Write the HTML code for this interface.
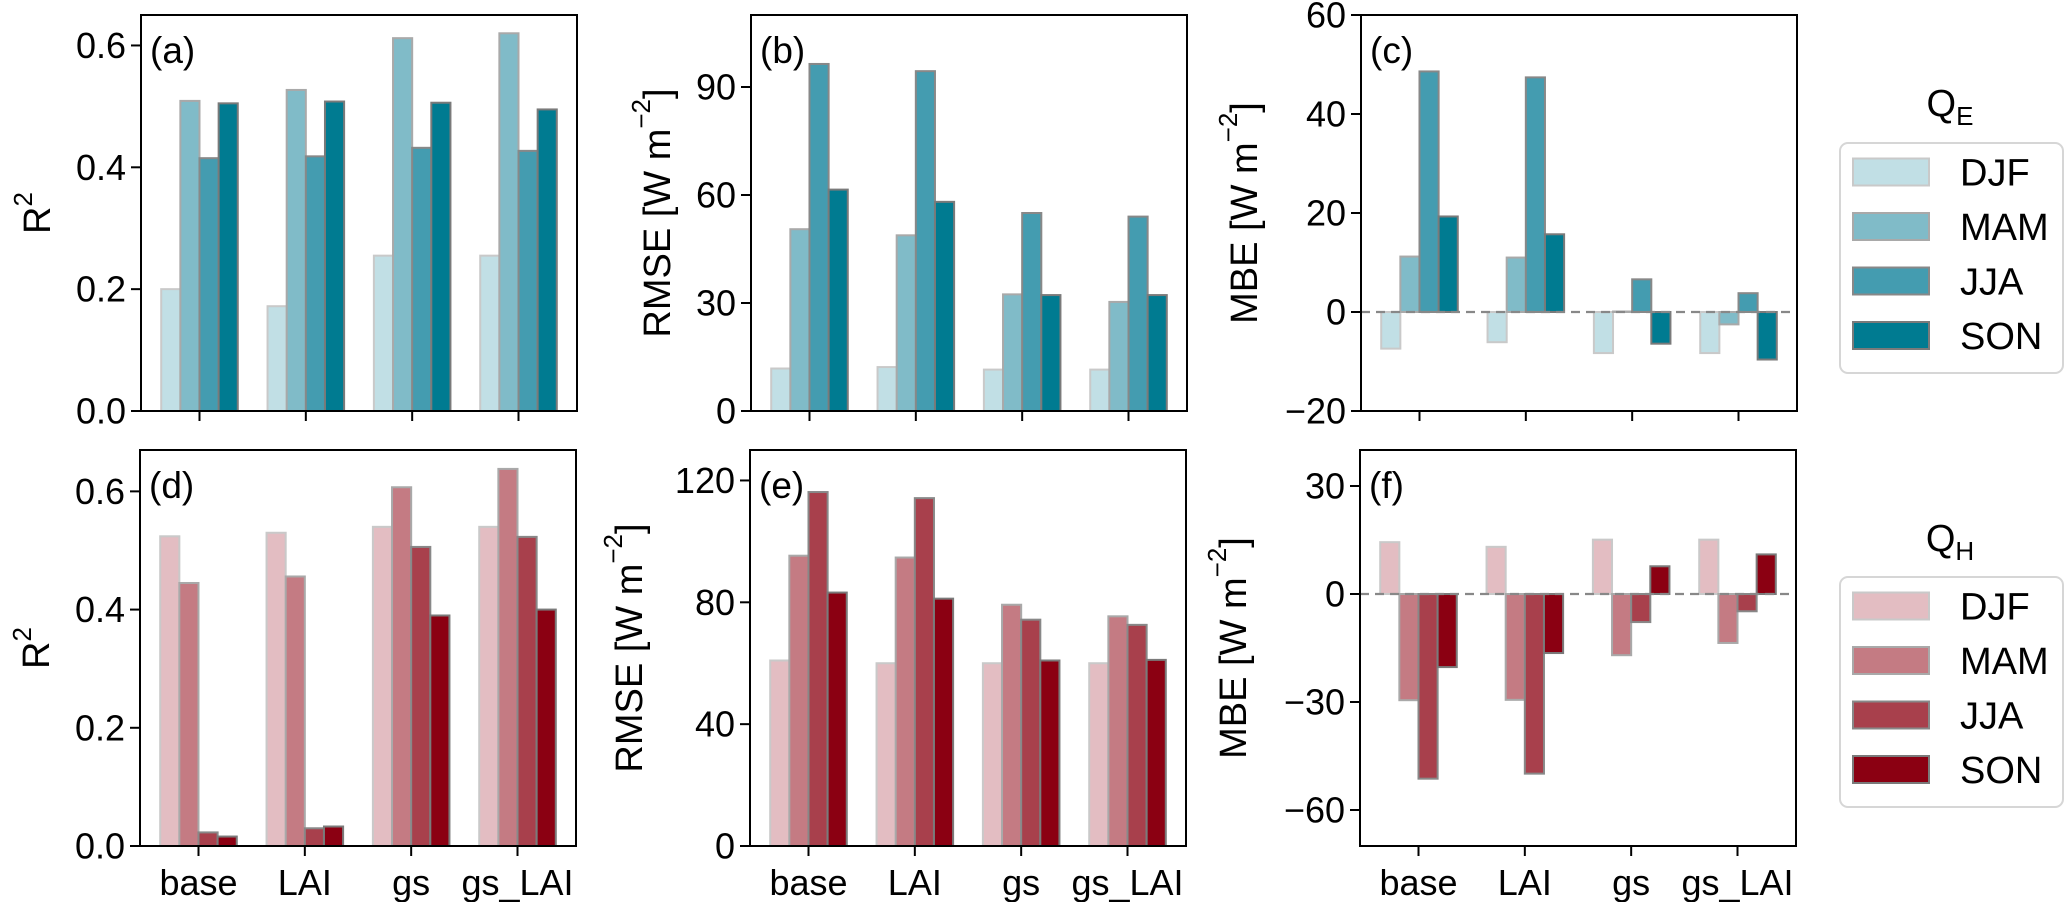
<!DOCTYPE html>
<html><head><meta charset="utf-8"><style>
html,body{margin:0;padding:0;background:#fff;}
svg{display:block;font-family:"Liberation Sans",Arial,sans-serif;}
</style></head><body>
<svg id="fig" width="2067" height="902" viewBox="0 0 2067 902" xmlns="http://www.w3.org/2000/svg"></svg>
<script>
const categories = ["base","LAI","gs","gs_LAI"];
const seasons = ["DJF","MAM","JJA","SON"];
// Q_E
const r2QE   = [[0.20,0.172,0.255,0.255],[0.509,0.527,0.612,0.62],[0.415,0.418,0.432,0.427],[0.505,0.508,0.506,0.495]];
const rmseQE = [[11.8,12.2,11.5,11.5],[50.5,48.8,32.4,30.3],[96.4,94.4,55,54],[61.5,58.1,32.2,32.2]];
const mbeQE  = [[-7.4,-6.1,-8.3,-8.3],[11.2,11.0,0.1,-2.5],[48.6,47.4,6.6,3.8],[19.3,15.7,-6.4,-9.6]];
// Q_H
const r2QH   = [[0.524,0.530,0.540,0.540],[0.445,0.456,0.607,0.638],[0.023,0.030,0.506,0.523],[0.016,0.033,0.39,0.40]];
const rmseQH = [[60.9,60.0,60.0,60.0],[95.3,94.7,79.2,75.4],[116.2,114.2,74.3,72.6],[83.2,81.2,60.9,61.1]];
const mbeQH  = [[14.4,13.1,15.1,15.1],[-29.5,-29.4,-17.0,-13.6],[-51.3,-49.9,-7.8,-4.8],[-20.3,-16.4,7.7,11.0]];
// tick values
const ticksR2 = [0,0.2,0.4,0.6];
const ticksRmseQE = [0,30,60,90];
const ticksMbeQE = [-20,0,20,40,60];
const ticksRmseQH = [0,40,80,120];
const ticksMbeQH = [-60,-30,0,30];

const tealColors = ["#c1dfe5","#80bbc8","#449cb0","#007b91"];
const redColors  = ["#e3bdc2","#c47b83","#a8404c","#8b0012"];
const edgeColors = ["#c9c9c9","#a9a9a9","#888888","#7a7a7a"];

const NS = "http://www.w3.org/2000/svg";
const svg = document.getElementById("fig");
function mk(tag, attrs, parent){
  const e = document.createElementNS(NS, tag);
  for (const k in attrs) e.setAttribute(k, attrs[k]);
  (parent||svg).appendChild(e);
  return e;
}
function fmtTick(v, dec){
  const s = dec ? v.toFixed(dec) : String(Math.abs(v));
  if (dec) return s;
  return (v<0?"\u2212":"") + s;
}

const panels = [
  {id:"a", data:r2QE, ticks:ticksR2, dec:1, ylim:[0,0.65], x0:141,x1:577,y0:15,y1:411, colors:tealColors, ylab:"R2", labX:37, xlabels:false},
  {id:"b", data:rmseQE, ticks:ticksRmseQE, dec:0, ylim:[0,110], x0:751,x1:1187,y0:15,y1:411, colors:tealColors, ylab:"RMSE", labX:657, xlabels:false},
  {id:"c", data:mbeQE, ticks:ticksMbeQE, dec:0, ylim:[-20,60], x0:1361,x1:1797,y0:15,y1:411, colors:tealColors, ylab:"MBE", labX:1244, xlabels:false, zero:true},
  {id:"d", data:r2QH, ticks:ticksR2, dec:1, ylim:[0,0.67], x0:140,x1:576,y0:450,y1:846, colors:redColors, ylab:"R2", labX:36, xlabels:true},
  {id:"e", data:rmseQH, ticks:ticksRmseQH, dec:0, ylim:[0,130], x0:750,x1:1186,y0:450,y1:846, colors:redColors, ylab:"RMSE", labX:629, xlabels:true},
  {id:"f", data:mbeQH, ticks:ticksMbeQH, dec:0, ylim:[-70,40], x0:1360,x1:1796,y0:450,y1:846, colors:redColors, ylab:"MBE", labX:1233, xlabels:true, zero:true}
];

const XMIN=-0.55, XMAX=3.55, BW=0.18;

panels.forEach(p=>{
  const g = mk("g",{});
  
  
  const xs = v => p.x0 + (v-XMIN)/(XMAX-XMIN)*(p.x1-p.x0);
  const ys = v => p.y1 - (v-p.ylim[0])/(p.ylim[1]-p.ylim[0])*(p.y1-p.y0);
  // bars
  p.data.forEach((series, si)=>{
    series.forEach((val, ci)=>{
      const cx = xs(ci + (si-1.5)*BW);
      const xL = cx - xs(BW/2) + xs(0);
      const w = xs(BW) - xs(0);
      const ya = ys(Math.max(val,0)), yb = ys(Math.min(val,0));
      const r = mk("rect",{x:xL.toFixed(2),y:ya.toFixed(2),width:w.toFixed(2),height:Math.max(yb-ya,0.5).toFixed(2),fill:p.colors[si],stroke:edgeColors[si],"stroke-width":2}, g);
      
      
    });
  });
  if (p.zero){
    const z = mk("line",{x1:p.x0,x2:p.x1,y1:ys(0),y2:ys(0),stroke:"#888","stroke-width":2.2,"stroke-dasharray":"9,6"}, g);
    
    
  }
  // frame
  const fr = mk("rect",{x:p.x0,y:p.y0,width:p.x1-p.x0,height:p.y1-p.y0,fill:"none",stroke:"#000","stroke-width":2}, g);
  
  
  // y ticks
  p.ticks.forEach(t=>{
    const y = ys(t);
    mk("line",{x1:p.x0-10,x2:p.x0,y1:y,y2:y,stroke:"#000","stroke-width":2}, g);
    const tl = mk("text",{x:p.x0-15,y:y+12.5,"text-anchor":"end","font-size":36,fill:"#000"}, g);
    tl.textContent = fmtTick(t, p.dec);
    
    
  });
  // x ticks
  categories.forEach((c,ci)=>{
    const x = xs(ci);
    mk("line",{x1:x,x2:x,y1:p.y1,y2:p.y1+10,stroke:"#000","stroke-width":2}, g);
    if (p.xlabels){
      const xl = mk("text",{x:x,y:895,"text-anchor":"middle","font-size":36,fill:"#000"}, g);
      xl.textContent = c;
      
      
    }
  });
  // panel letter
  const pl = mk("text",{x:p.x0+9,y:p.y0+48,"font-size":37,fill:"#000"}, g);
  pl.textContent = "("+p.id+")";
  
  
  // y-axis title
  const cy = (p.y0+p.y1)/2;
  const yt = mk("text",{x:0,y:0,"text-anchor":"middle","font-size":38,fill:"#000",transform:`translate(${p.labX+13},${cy}) rotate(-90)`}, g);
  
  
  if (p.ylab==="R2"){
    const t1 = mk("tspan",{}, yt); t1.textContent="R";
    const t2 = mk("tspan",{"font-size":26,dy:-18}, yt); t2.textContent="2";
  } else {
    const t1 = mk("tspan",{}, yt); t1.textContent=p.ylab+" [W m";
    const t2 = mk("tspan",{"font-size":26,dy:-20}, yt); t2.textContent="\u22122";
    const t3 = mk("tspan",{dy:20}, yt); t3.textContent="]";
  }
});

// legends
function legend(top, title, titleY, colors, key){
  const g = mk("g",{});
  
  
  const tt = mk("text",{x:1950,y:titleY+14,"text-anchor":"middle","font-size":38,fill:"#000"}, g);
  
  
  const a = mk("tspan",{}, tt); a.textContent="Q";
  const b = mk("tspan",{"font-size":26,dy:9}, tt); b.textContent=title;
  mk("rect",{x:1840,y:top,width:223,height:230,rx:8,fill:"#fff",stroke:"#d6d6d6","stroke-width":2}, g);
  seasons.forEach((s,i)=>{
    const cy = top+29+i*54.5;
    const r = mk("rect",{x:1853,y:cy-13.5,width:76,height:27,fill:colors[i],stroke:edgeColors[i],"stroke-width":2}, g);
    
    
    const t = mk("text",{x:1960,y:cy+13.5,"font-size":38,fill:"#000"}, g);
    t.textContent = s;
    
    
  });
}
legend(143, "E", 102, tealColors, "qe");
legend(577, "H", 537, redColors, "qh");
</script>
</body></html>
